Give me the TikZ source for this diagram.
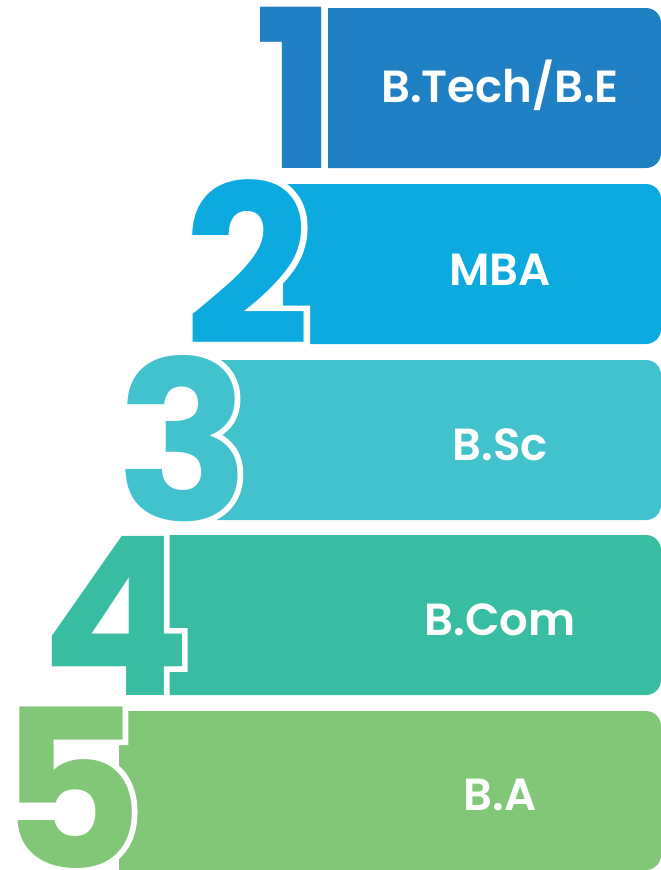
\documentclass[tikz,border=0pt]{standalone}
\usepackage{fontspec}
\setmainfont{Poppins}
\IfFontExistsTF{Poppins SemiBold}
  {\newfontfamily\labelfont{Poppins SemiBold}}
  {\newfontfamily\labelfont{Poppins}[UprightFont=*-Bold]}

\definecolor{barone}{HTML}{1F80C4}
\definecolor{bartwo}{HTML}{0DAADF}
\definecolor{barthree}{HTML}{41C2CD}
\definecolor{barfour}{HTML}{38BDA2}
\definecolor{barfive}{HTML}{82C778}

% digit with a white outline behind it
\newcommand{\outlined}[1]{\rlap{\color{white}\addfontfeature{FakeBold=5}#1}#1}

\tikzset{
  digit/.style={anchor=base, inner sep=0pt, font=\bfseries\fontsize{221}{221}\selectfont},
  degree/.style={text=white, inner sep=0pt, font=\labelfont\fontsize{45}{45}\selectfont}
}

\begin{document}
\begin{tikzpicture}[x=1pt, y=-1pt]
\useasboundingbox (0,0) rectangle (661,870);

% Bar 1 - B.Tech/B.E
\fill[barone] (328,8) [rounded corners=15] -- (661,8) -- (661,168) [sharp corners] -- (328,168) -- cycle;
\node[digit, text=barone] (num1) at (296,168) {\outlined{1}};
\node[degree] (deg1) at (500,85) {B.Tech/B.E};

% Bar 2 - MBA
\fill[bartwo] (283,184) [rounded corners=15] -- (661,184) -- (661,344) [sharp corners] -- (283,344) -- cycle;
\node[digit, text=bartwo] (num2) at (248,344) {\outlined{2}};
\node[degree] (deg2) at (500,270) {MBA};

% Bar 3 - B.Sc
\fill[barthree] (215,360) [rounded corners=15] -- (661,360) -- (661,520) [sharp corners] -- (215,520) -- cycle;
\node[digit, text=barthree] (num3) at (183,520) {\outlined{3}};
\node[degree] (deg3) at (500,445) {B.Sc};

% Bar 4 - B.Com
\fill[barfour] (159,535) [rounded corners=15] -- (661,535) -- (661,695) [sharp corners] -- (159,695) -- cycle;
\node[digit, text=barfour] (num4) at (116,695) {\outlined{4}};
\node[degree] (deg4) at (500,620) {B.Com};

% Bar 5 - B.A
\fill[barfive] (119,711) [rounded corners=15] -- (661,711) -- (661,870) [sharp corners] -- (119,870) -- cycle;
\node[digit, text=barfive] (num5) at (71,868) {\outlined{5}};
\node[degree] (deg5) at (500,795) {B.A};

\end{tikzpicture}
\end{document}
